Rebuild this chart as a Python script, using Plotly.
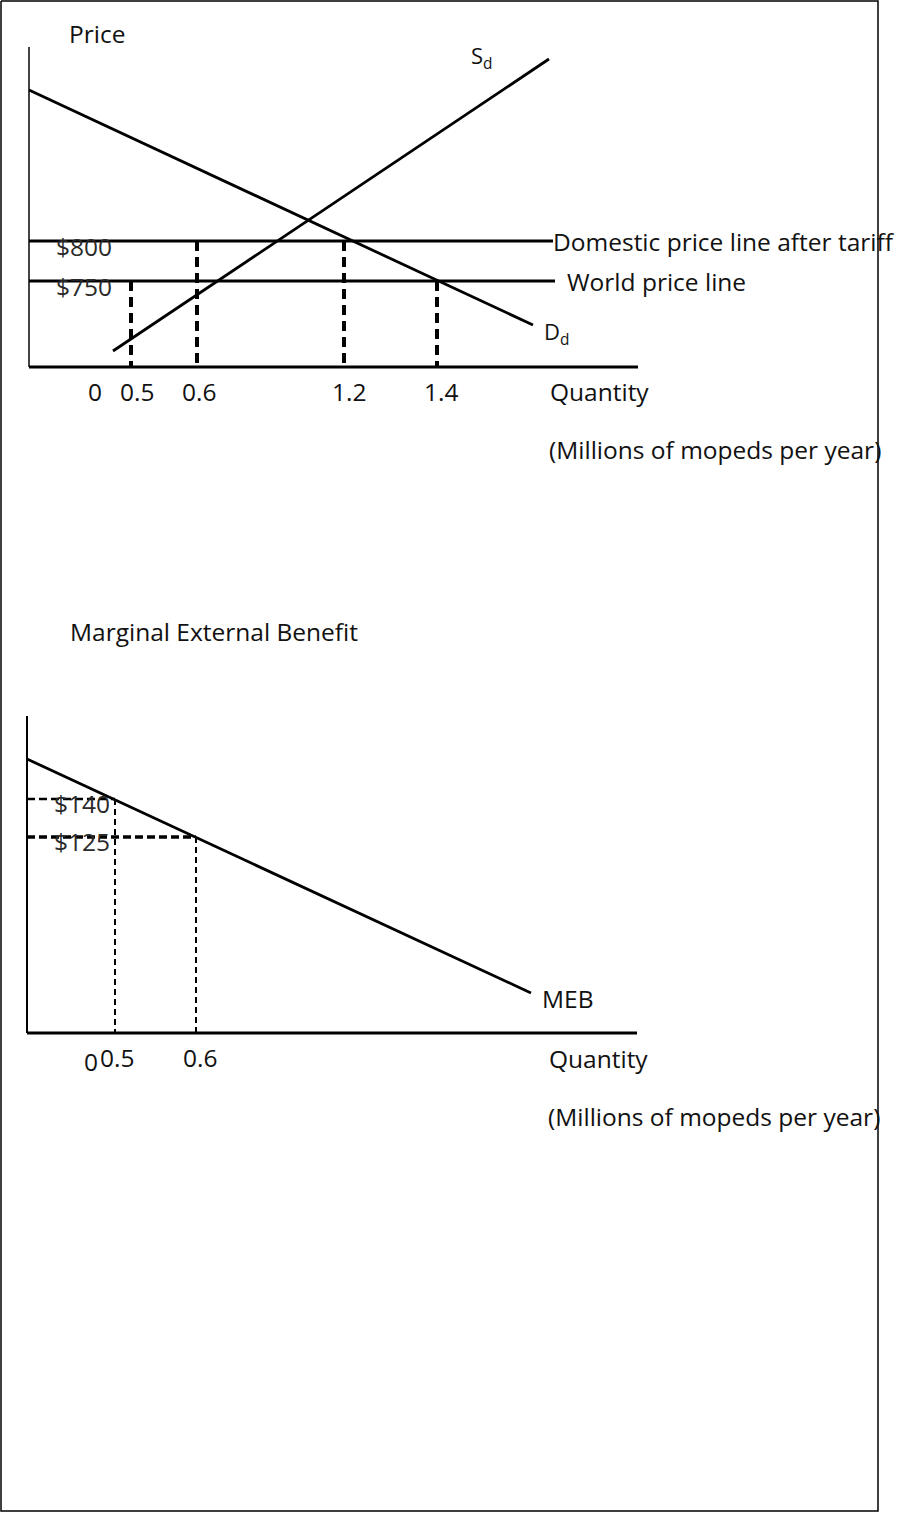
import plotly.graph_objects as go

# Canvas in pixel units of the sketch (x to the right, y downwards)
W, H = 917, 1513
FONT = "Open Sans"
INK = "#000000"
FS = 24.5

# ---------- Top panel: domestic market for mopeds ----------
top_origin = (29, 367)
top_y_axis_top = 47
top_x_axis_end = 638

demand_x = [29, 533]
demand_y = [90, 325]
supply_x = [113, 549]
supply_y = [351, 59]

price_labels = ["$800", "$750"]
price_line_y = [241, 281]
price_line_end = [553, 555]
price_line_names = ["Domestic price line after tariff", "World price line"]
price_name_x = [551, 565]

qty_labels_top = ["0", "0.5", "0.6", "1.2", "1.4"]
qty_label_x_top = [95, 137, 199, 349, 441]
drop_x_top = [131, 197, 344, 437]          # dashed drops at 0.5, 0.6, 1.2, 1.4
drop_from_top = [281, 241, 241, 281]       # price line each drop starts from

# ---------- Bottom panel: marginal external benefit ----------
bot_origin = (27, 1033)
bot_y_axis_top = 716
bot_x_axis_end = 637

meb_x = [27, 531]
meb_y = [759, 993]

meb_labels = ["$140", "$125"]
meb_level_y = [799, 837]
meb_drop_x = [115, 196]                    # dashed drops at 0.5 and 0.6
meb_hwidth = [2.5, 3.5]

qty_labels_bot = ["0", "0.5", "0.6"]
qty_label_x_bot = [91, 117, 200]
qty_label_y_bot = [1061, 1057, 1057]

fig = go.Figure()


def seg(x, y, width=3, color=INK, dash="solid"):
    fig.add_trace(go.Scatter(x=x, y=y, mode="lines",
                             line=dict(color=color, width=width, dash=dash),
                             hoverinfo="skip", showlegend=False))


# top axes
seg([top_origin[0], top_origin[0]], [top_y_axis_top, top_origin[1]], 2, "#444444")
seg([top_origin[0], top_x_axis_end], [top_origin[1], top_origin[1]], 3)
# price lines
for yv, xe in zip(price_line_y, price_line_end):
    seg([top_origin[0], xe], [yv, yv], 2.8)
# dashed drops
for xv, yv in zip(drop_x_top, drop_from_top):
    seg([xv, xv], [yv, top_origin[1]], 4, dash="10px,6px")
# demand and supply
seg(demand_x, demand_y, 2.8)
seg(supply_x, supply_y, 2.8)

# bottom axes
seg([bot_origin[0], bot_origin[0]], [bot_y_axis_top, bot_origin[1]], 2)
seg([bot_origin[0], bot_x_axis_end], [bot_origin[1], bot_origin[1]], 3)
for xv, yv, wv in zip(meb_drop_x, meb_level_y, meb_hwidth):
    seg([bot_origin[0], xv], [yv, yv], wv, dash="8px,4px")
    seg([xv, xv], [yv, bot_origin[1]], 2, dash="6px,4px")
seg(meb_x, meb_y, 2.8)

# page border
seg([1, 878, 878, 1, 1], [1, 1, 1511, 1511, 1], 1.5, "#000000")


def txt(s, x, y, anchor="left", size=FS, color="#111111"):
    fig.add_annotation(x=x, y=y, text=s, showarrow=False, xanchor=anchor,
                       yanchor="middle", font=dict(family=FONT, size=size, color=color))


txt("Price", 67, 33)
txt("S<sub>d</sub>", 469, 57, size=22)
txt("D<sub>d</sub>", 542, 333, size=22)
for s, yv in zip(price_labels, price_line_y):
    txt(s, 84, yv + 5, anchor="center", color="#2a2a2a")
for s, xv, yv in zip(price_line_names, price_name_x, price_line_y):
    txt(s, xv, yv)
for s, xv in zip(qty_labels_top, qty_label_x_top):
    txt(s, xv, 391, anchor="center")
txt("Quantity", 548, 391)
txt("(Millions of mopeds per year)", 547, 449)

txt("Marginal External Benefit", 68, 631)
for s, yv in zip(meb_labels, meb_level_y):
    txt(s, 82, yv + 4, anchor="center", color="#2a2a2a")
txt("MEB", 540, 998)
for s, xv, yv in zip(qty_labels_bot, qty_label_x_bot, qty_label_y_bot):
    txt(s, xv, yv, anchor="center")
txt("Quantity", 547, 1058)
txt("(Millions of mopeds per year)", 546, 1116)

fig.update_layout(
    width=W, height=H, margin=dict(l=0, r=0, t=0, b=0),
    paper_bgcolor="white", plot_bgcolor="white",
    xaxis=dict(range=[0, W], visible=False, fixedrange=True),
    yaxis=dict(range=[H, 0], visible=False, fixedrange=True),
)
fig.write_html(
    "out.html",
    config={"displayModeBar": False},
    post_script="document.body.style.margin='0';document.body.style.overflow='hidden';",
)
